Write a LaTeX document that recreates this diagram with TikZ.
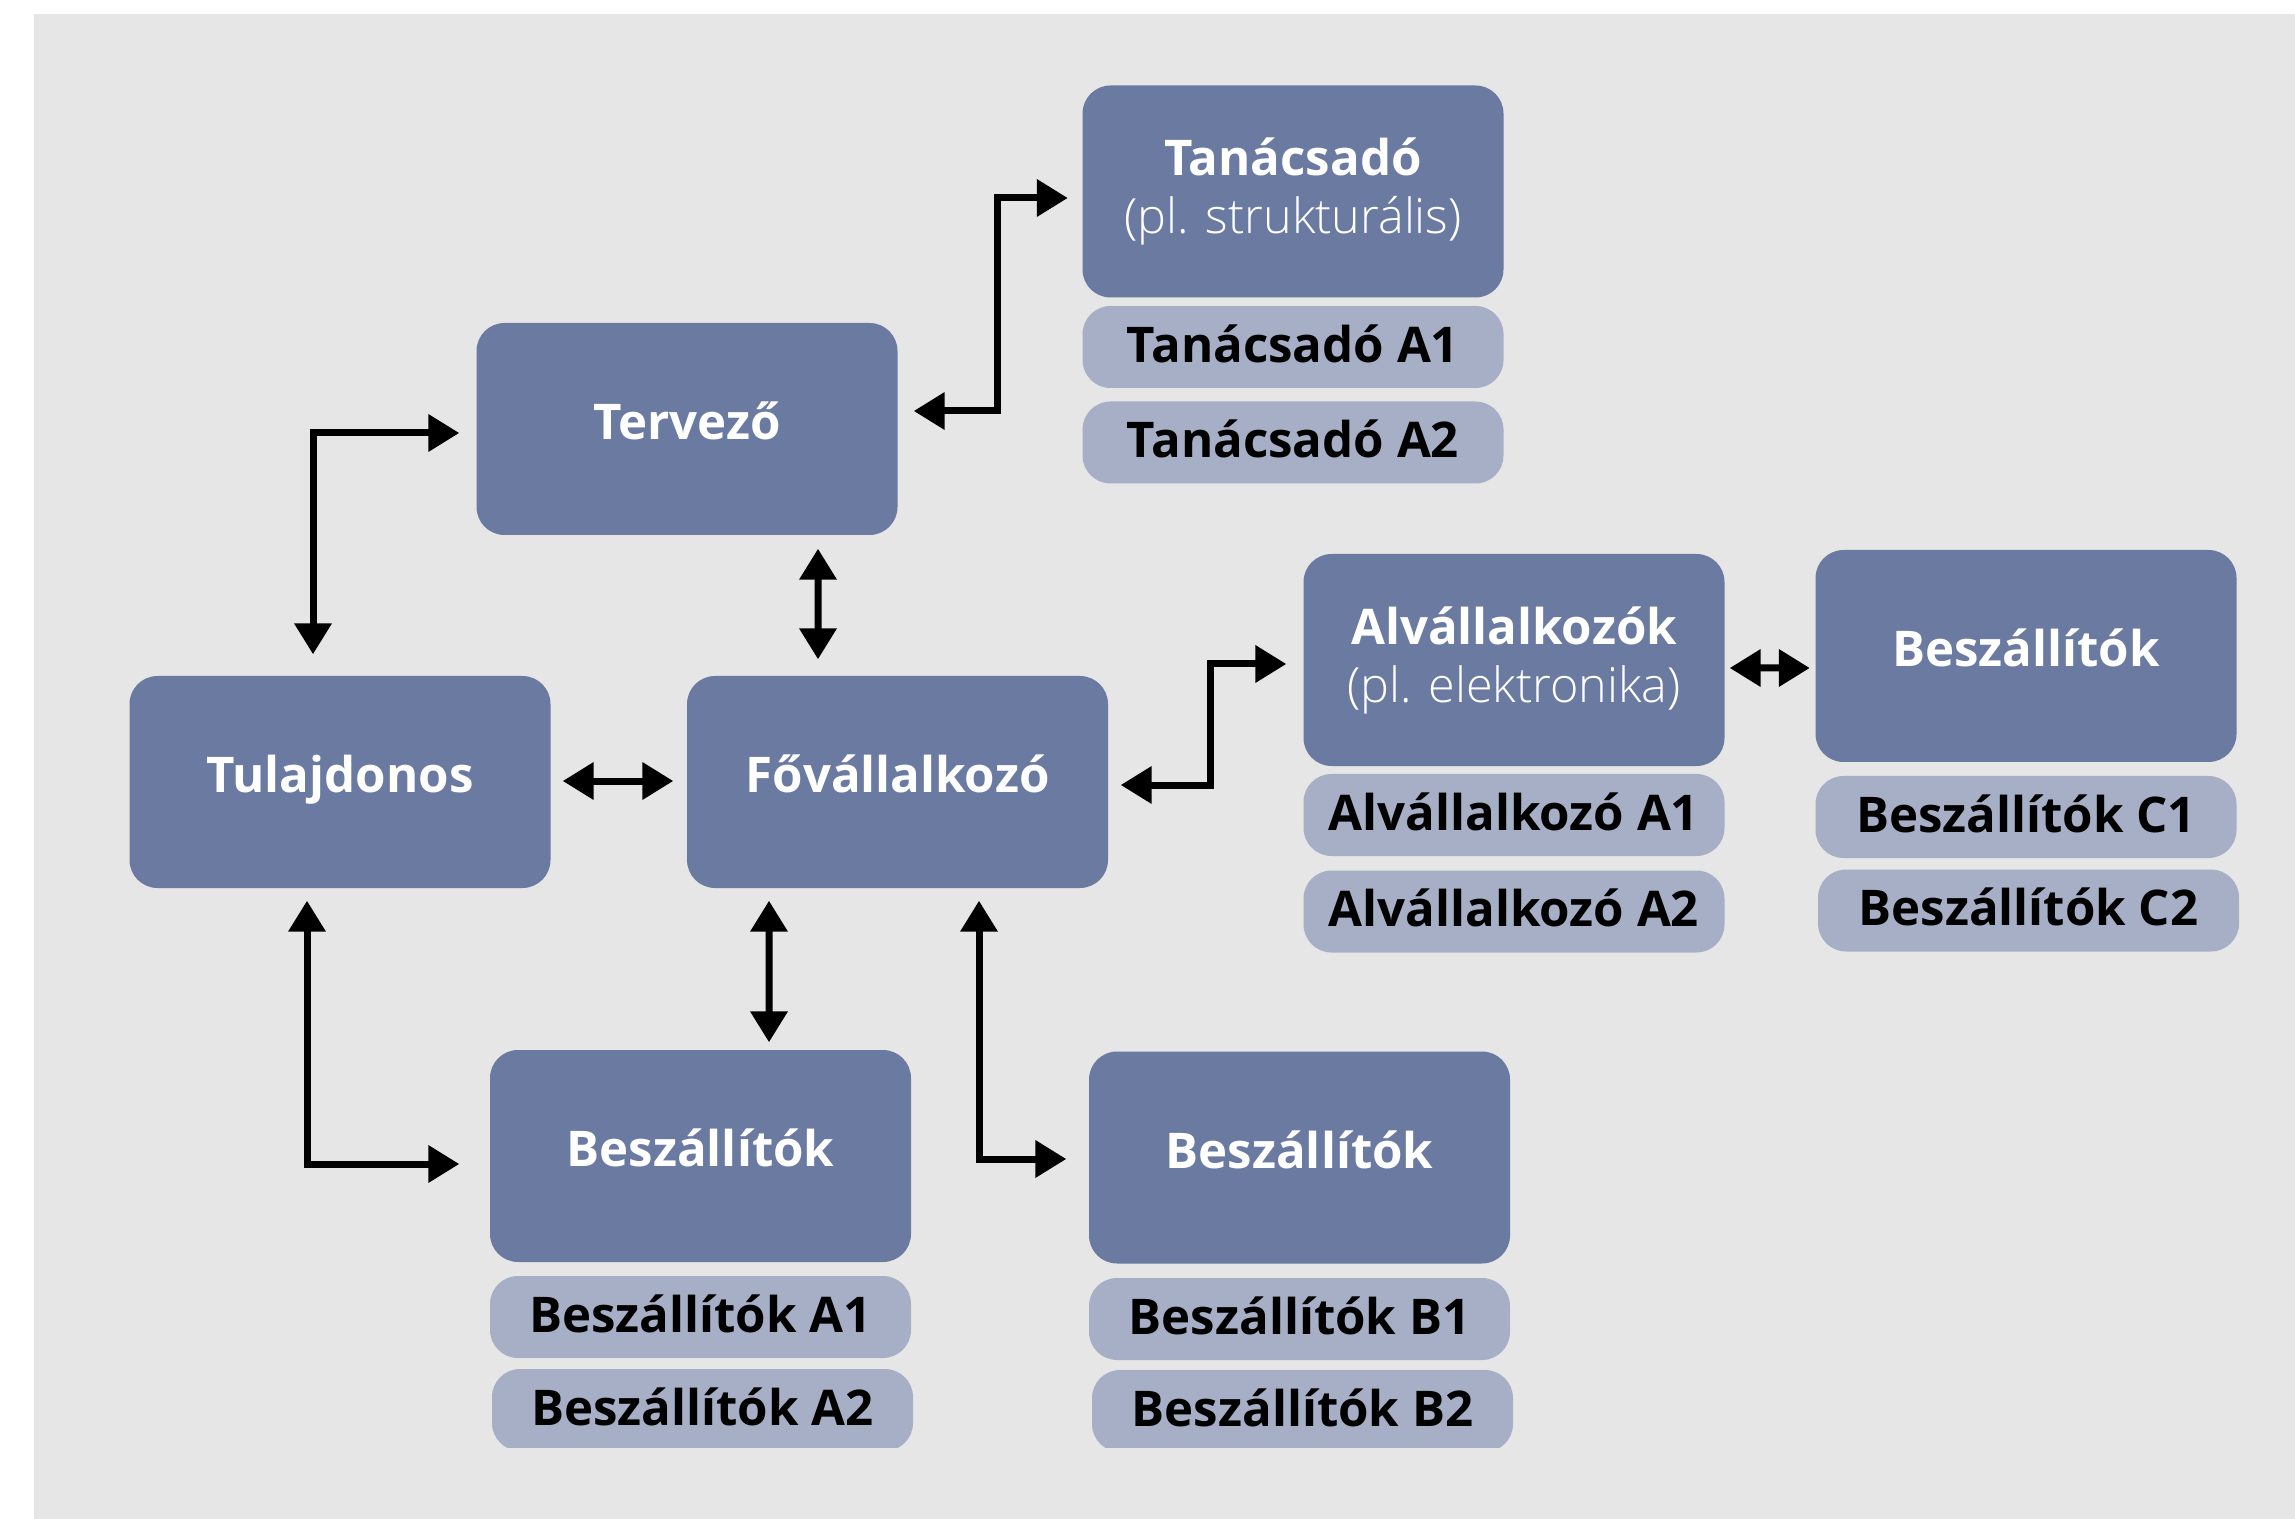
\documentclass[tikz,border=0pt]{standalone}
\usepackage{fontspec}
\setmainfont{Open Sans}
\IfFontExistsTF{Open Sans Light}{\newfontfamily\thinfont{Open Sans Light}}{\newfontfamily\thinfont{Open Sans}}
\usetikzlibrary{arrows.meta}
\definecolor{boxblue}{RGB}{107,122,161}
\definecolor{subblue}{RGB}{166,175,198}
\definecolor{marble}{RGB}{230,230,230}

\begin{document}
\begin{tikzpicture}[
    mainbox/.style={fill=boxblue, rounded corners=0.28cm, minimum width=4.21cm, minimum height=2.12cm, inner sep=0pt, text=white, font=\fontsize{14pt}{16.5pt}\selectfont\bfseries},
    onebox/.style={mainbox, text height=0.352cm, text depth=0.137cm},
    subbox/.style={fill=subblue, rounded corners=0.28cm, minimum width=4.21cm, minimum height=0.82cm, inner sep=0pt, text height=0.352cm, text depth=0.047cm, font=\fontsize{14pt}{16.5pt}\selectfont\bfseries},
    thin/.style={font=\fontsize{13.8pt}{16.5pt}\selectfont\mdseries\thinfont},
    link/.style={line width=0.07cm, {Triangle[length=0.31cm,width=0.36cm]}-{Triangle[length=0.31cm,width=0.36cm]}}
]
    \useasboundingbox (0,0) rectangle (22.95,-15.19);
    \fill[marble] (0.34,-0.14) rectangle (22.95,-15.19);

    \node[mainbox, align=center] (tan) at (12.93,-1.915) {Tanácsadó\\{\fontsize{13.8pt}{16.5pt}\selectfont\mdseries\thinfont (pl. strukturális)}};
    \node[subbox] (tanA1) at (12.93,-3.47) {Tanácsadó A1};
    \node[subbox] (tanA2) at (12.93,-4.425) {Tanácsadó A2};
    \node[onebox] (terv) at (6.87,-4.29) {Tervező};
    \node[onebox] (tul) at (3.40,-7.82) {Tulajdonos};
    \node[onebox] (fo) at (8.975,-7.82) {Fővállalkozó};
    \node[mainbox, align=center] (alv) at (15.14,-6.60) {Alvállalkozók\\{\fontsize{13.8pt}{16.5pt}\selectfont\mdseries\thinfont (pl. elektronika)}};
    \node[subbox] (alvA1) at (15.14,-8.15) {Alvállalkozó A1};
    \node[subbox] (alvA2) at (15.14,-9.115) {Alvállalkozó A2};
    \node[onebox] (besC) at (20.26,-6.56) {Beszállítók};
    \node[subbox] (besC1) at (20.26,-8.17) {Beszállítók C1};
    \node[subbox] (besC2) at (20.285,-9.105) {Beszállítók C2};
    \node[onebox] (besA) at (7.005,-11.56) {Beszállítók};
    \node[subbox] (besA1) at (7.005,-13.17) {Beszállítók A1};
    \node[onebox] (besB) at (12.995,-11.575) {Beszállítók};
    \node[subbox] (besB1) at (12.995,-13.19) {Beszállítók B1};
    \begin{scope}
        \clip (0,0) rectangle (22.95,-14.47);
        \node[subbox] (besA2) at (7.025,-14.10) {Beszállítók A2};
        \node[subbox] (besB2) at (13.025,-14.11) {Beszállítók B2};
    \end{scope}

    \draw[link] ([shift={(1.31,-0.13)}]terv.south) -- ([shift={(-0.795,0.16)}]fo.north);
    \draw[link] ([shift={(0.115,0.01)}]tul.east) -- ([shift={(-0.13,0.01)}]fo.west);
    \draw[link] ([shift={(0.155,0.18)}]terv.east) -- ++(0.84,0) |- ([shift={(-0.14,-0.065)}]tan.west);
    \draw[link] ([shift={(-0.27,0.21)}]tul.north) |- ([shift={(-0.165,-0.04)}]terv.west);
    \draw[link] ([shift={(-0.33,-0.12)}]tul.south) |- ([shift={(-0.30,-0.08)}]besA.west);
    \draw[link] ([shift={(-1.285,-0.12)}]fo.south) -- ([shift={(0.685,0.07)}]besA.north);
    \draw[link] ([shift={(0.815,-0.12)}]fo.south) |- ([shift={(-0.22,-0.015)}]besB.west);
    \draw[link] ([shift={(0.12,-0.03)}]fo.east) -- ++(0.90,0) |- ([shift={(-0.165,-0.04)}]alv.west);
    \draw[link] ([shift={(0.045,-0.08)}]alv.east) -- ([shift={(-0.05,-0.12)}]besC.west);
\end{tikzpicture}
\end{document}
